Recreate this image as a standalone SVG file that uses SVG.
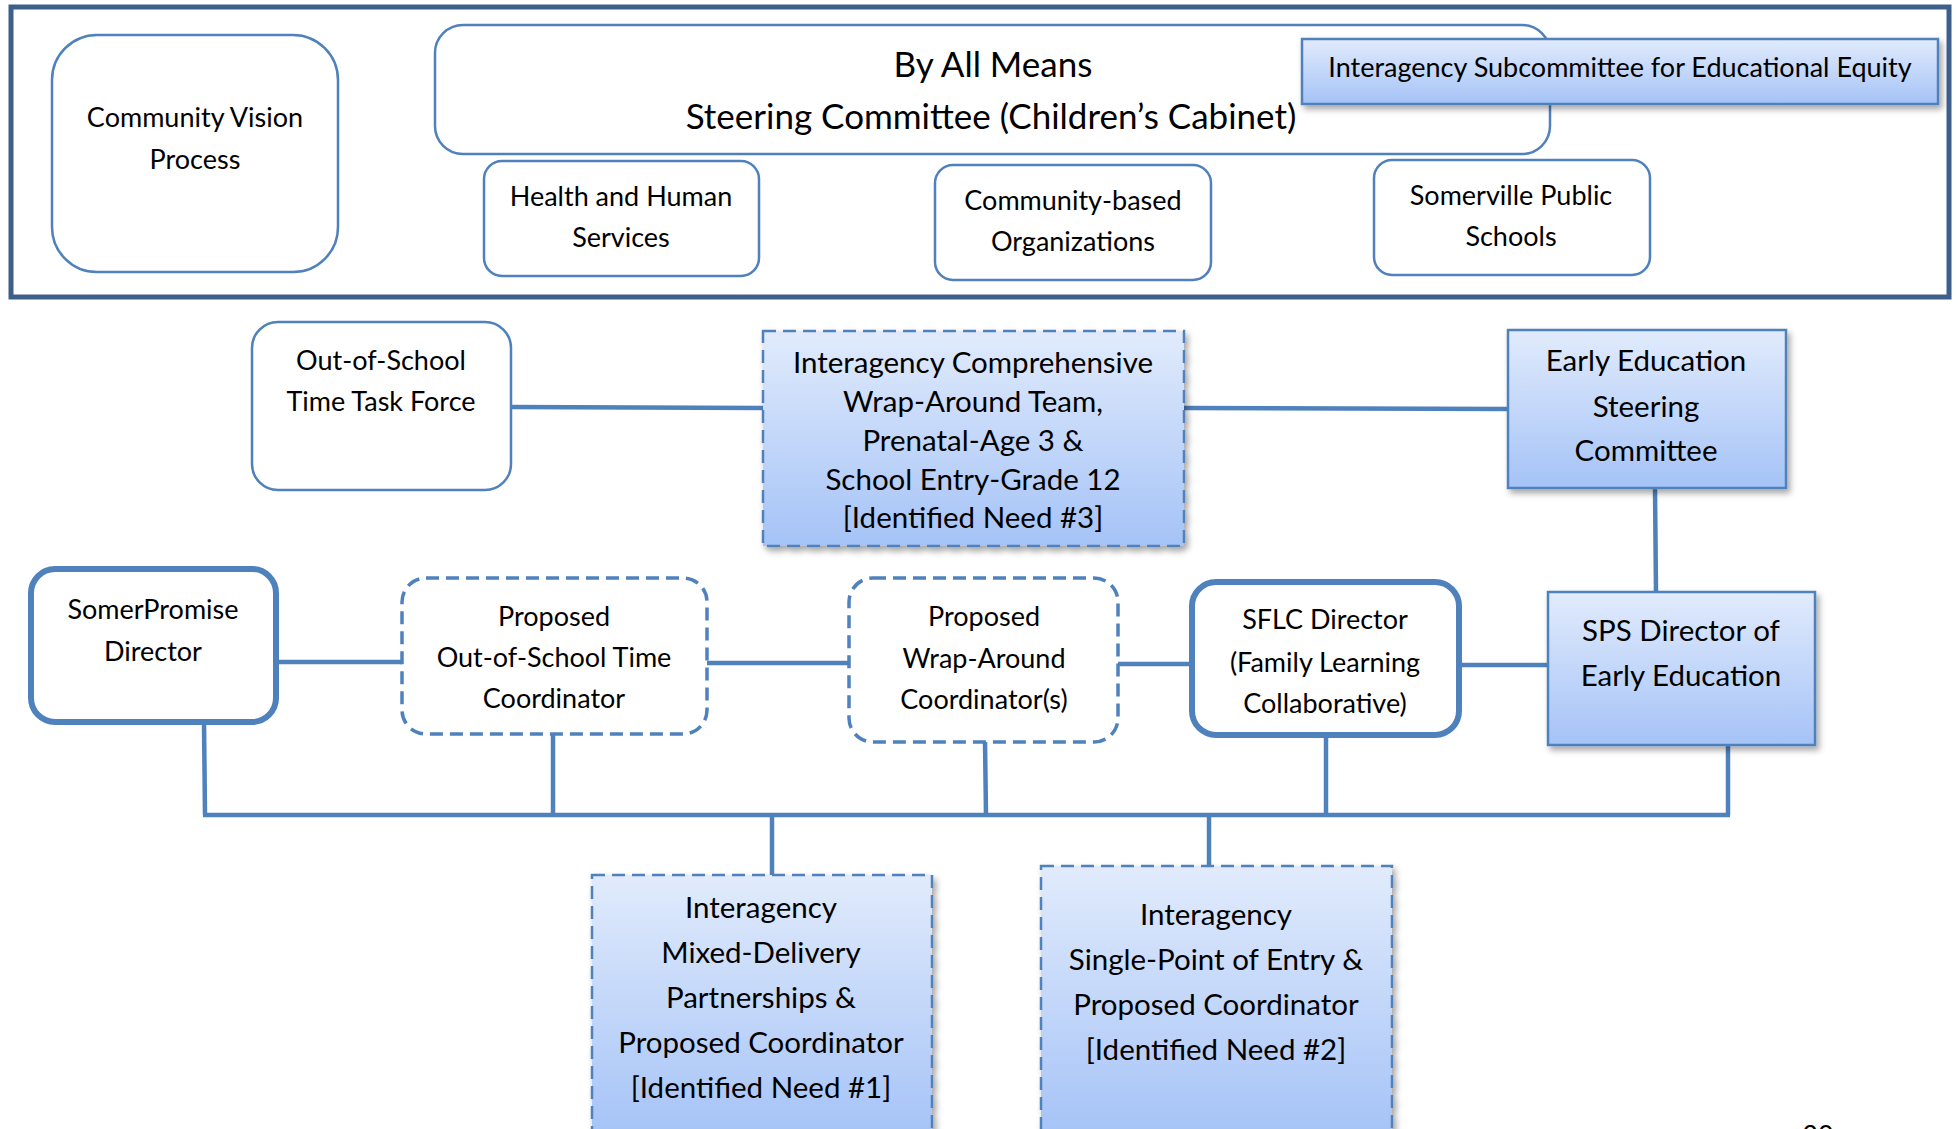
<svg xmlns="http://www.w3.org/2000/svg" width="1958" height="1129" viewBox="0 0 1958 1129">
<defs>
<linearGradient id="g" x1="0" y1="0" x2="0" y2="1">
<stop offset="0" stop-color="#E1EBFC"/>
<stop offset="1" stop-color="#A5C3F7"/>
</linearGradient>
<filter id="sh" x="-10%" y="-10%" width="130%" height="130%">
<feDropShadow dx="3" dy="4" stdDeviation="3" flood-color="#000" flood-opacity="0.35"/>
</filter>
<style>
.t{font-family:Lato,"Open Sans","Noto Sans",sans-serif;fill:#000;text-anchor:middle}
.s{font-size:27px}
.m{font-size:29.5px}
.l{font-size:35px}
.box{fill:#fff;stroke:#4F81BD;stroke-width:2.5}
.thick{fill:#fff;stroke:#4F81BD;stroke-width:6}
.dash{stroke:#4F81BD;stroke-width:3.5;stroke-dasharray:13 7}
.grad{fill:url(#g);stroke:#4F81BD;stroke-width:2.5}
.c{stroke:#4F81BD;stroke-width:4.5;fill:none}
</style>
</defs>
<rect width="1958" height="1129" fill="#fff"/>
<g id="frame"><rect x="11" y="7" width="1938" height="290" fill="none" stroke="#3C5F8C" stroke-width="5"/></g>
<g id="connectors">
<line class="c" x1="511" y1="407" x2="763" y2="408"/>
<line class="c" x1="1184" y1="408" x2="1508" y2="409"/>
<line class="c" x1="1655" y1="488" x2="1656" y2="592"/>
<line class="c" x1="276" y1="662" x2="402" y2="662"/>
<line class="c" x1="707" y1="663" x2="849" y2="663"/>
<line class="c" x1="1118" y1="664" x2="1191" y2="664"/>
<line class="c" x1="1459" y1="665" x2="1548" y2="665"/>
<line class="c" x1="203" y1="815" x2="1730" y2="815"/>
<line class="c" x1="204" y1="722" x2="205" y2="815"/>
<line class="c" x1="553" y1="734" x2="553" y2="815"/>
<line class="c" x1="985" y1="742" x2="986" y2="815"/>
<line class="c" x1="1326" y1="735" x2="1326" y2="815"/>
<line class="c" x1="1728" y1="745" x2="1728" y2="815"/>
<line class="c" x1="772" y1="815" x2="772" y2="875"/>
<line class="c" x1="1209" y1="815" x2="1209" y2="866"/>
</g>
<g id="community-vision">
<rect class="box" x="52" y="35" width="286" height="237" rx="45"/>
<text class="t s" x="195" y="127">Community Vision</text>
<text class="t s" x="195" y="169">Process</text>
</g>
<g id="steering">
<rect class="box" x="435" y="25" width="1115" height="129" rx="28"/>
<text class="t l" x="993" y="77">By All Means</text>
<text class="t l" x="991" y="129">Steering Committee (Children’s Cabinet)</text>
</g>
<g id="subcommittee">
<rect class="grad" x="1302" y="39" width="636" height="65" filter="url(#sh)"/>
<text class="t s" x="1620" y="77">Interagency Subcommittee for Educational Equity</text>
</g>
<g id="hhs">
<rect class="box" x="484" y="161" width="275" height="115" rx="18"/>
<text class="t s" x="621" y="206">Health and Human</text>
<text class="t s" x="621" y="247">Services</text>
</g>
<g id="cbo">
<rect class="box" x="935" y="165" width="276" height="115" rx="18"/>
<text class="t s" x="1073" y="210">Community-based</text>
<text class="t s" x="1073" y="251">Organizations</text>
</g>
<g id="sps">
<rect class="box" x="1374" y="160" width="276" height="115" rx="18"/>
<text class="t s" x="1511" y="205">Somerville Public</text>
<text class="t s" x="1511" y="246">Schools</text>
</g>
<g id="ost-task-force">
<rect class="box" x="252" y="322" width="259" height="168" rx="26"/>
<text class="t s" x="381" y="370">Out-of-School</text>
<text class="t s" x="381" y="411">Time Task Force</text>
</g>
<g id="wrap-team">
<rect class="grad dash" x="763" y="331" width="421" height="215" filter="url(#sh)"/>
<text class="t m" x="973" y="373">Interagency Comprehensive</text>
<text class="t m" x="973" y="412">Wrap-Around Team,</text>
<text class="t m" x="973" y="451">Prenatal-Age 3 &amp;</text>
<text class="t m" x="973" y="490">School Entry-Grade 12</text>
<text class="t m" x="973" y="528">[Identified Need #3]</text>
</g>
<g id="early-ed-steering">
<rect class="grad" x="1508" y="330" width="278" height="158" filter="url(#sh)"/>
<text class="t m" x="1646" y="371">Early Education</text>
<text class="t m" x="1646" y="417">Steering</text>
<text class="t m" x="1646" y="461">Committee</text>
</g>
<g id="somerpromise">
<rect class="thick" x="31" y="569" width="245" height="153" rx="24"/>
<text class="t s" x="153" y="619">SomerPromise</text>
<text class="t s" x="153" y="661">Director</text>
</g>
<g id="ost-coord">
<rect class="box dash" x="402" y="578" width="305" height="156" rx="24"/>
<text class="t s" x="554" y="626">Proposed</text>
<text class="t s" x="554" y="667">Out-of-School Time</text>
<text class="t s" x="554" y="708">Coordinator</text>
</g>
<g id="wrap-coord">
<rect class="box dash" x="849" y="578" width="269" height="164" rx="24"/>
<text class="t s" x="984" y="626">Proposed</text>
<text class="t s" x="984" y="668">Wrap-Around</text>
<text class="t s" x="984" y="709">Coordinator(s)</text>
</g>
<g id="sflc">
<rect class="thick" x="1192" y="582" width="267" height="153" rx="24"/>
<text class="t s" x="1325" y="629">SFLC Director</text>
<text class="t s" x="1325" y="672">(Family Learning</text>
<text class="t s" x="1325" y="713">Collaborative)</text>
</g>
<g id="sps-director">
<rect class="grad" x="1548" y="592" width="267" height="153" filter="url(#sh)"/>
<text class="t m" x="1681" y="641">SPS Director of</text>
<text class="t m" x="1681" y="686">Early Education</text>
</g>
<g id="mixed-delivery">
<rect class="grad dash" x="592" y="875" width="340" height="262" filter="url(#sh)"/>
<text class="t m" x="761" y="918">Interagency</text>
<text class="t m" x="761" y="963">Mixed-Delivery</text>
<text class="t m" x="761" y="1008">Partnerships &amp;</text>
<text class="t m" x="761" y="1053">Proposed Coordinator</text>
<text class="t m" x="761" y="1098">[Identified Need #1]</text>
</g>
<g id="single-point">
<rect class="grad dash" x="1041" y="866" width="351" height="271" filter="url(#sh)"/>
<text class="t m" x="1216" y="925">Interagency</text>
<text class="t m" x="1216" y="970">Single-Point of Entry &amp;</text>
<text class="t m" x="1216" y="1015">Proposed Coordinator</text>
<text class="t m" x="1216" y="1060">[Identified Need #2]</text>
</g>
<text class="t s" x="1818" y="1145">30</text>
</svg>
